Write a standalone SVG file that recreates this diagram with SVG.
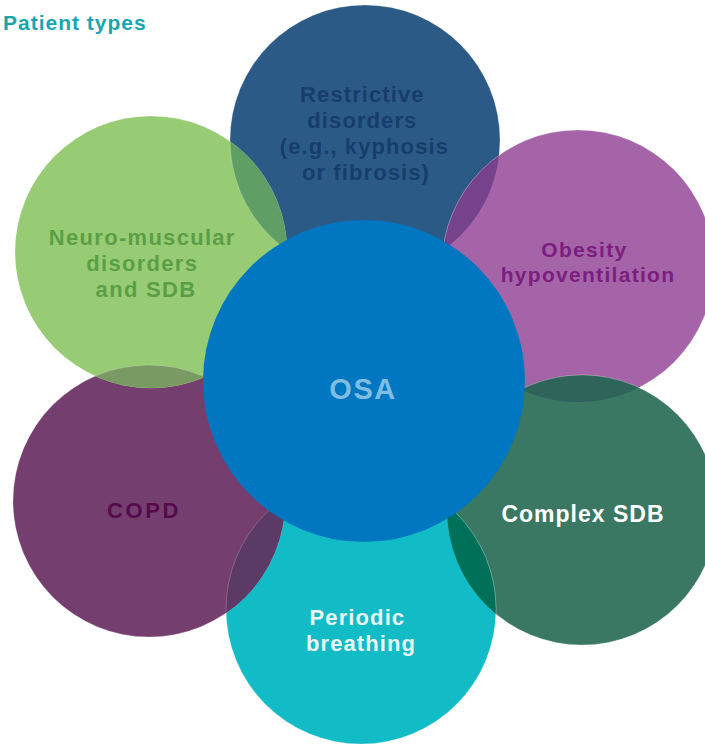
<svg xmlns="http://www.w3.org/2000/svg" width="705" height="744" viewBox="0 0 705 744">
  <style>
    .lbl { font-family: "Liberation Sans", Arial, sans-serif; font-weight: 700; text-anchor: middle; }
    .ring { stroke: #ffffff; stroke-opacity: 0.35; stroke-width: 0.6; }
  </style>
  <defs>
    <clipPath id="cRestr"><circle cx="365" cy="140" r="135"/></clipPath>
    <clipPath id="cObes"><circle cx="578" cy="266" r="136"/></clipPath>
    <clipPath id="cCompl"><circle cx="582" cy="510" r="135"/></clipPath>
    <clipPath id="cPer"><circle cx="361" cy="609" r="135"/></clipPath>
    <clipPath id="cCopd"><circle cx="149" cy="501" r="136"/></clipPath>
    <clipPath id="cNeuro"><circle cx="151" cy="252" r="136"/></clipPath>
  </defs>
  <rect width="705" height="744" fill="#ffffff"/>
  <text class="lbl" x="3" y="30" font-size="21" letter-spacing="1" fill="#17a6b1" style="text-anchor:start">Patient types</text>

  <g id="node-restrictive">
    <circle class="ring" cx="365" cy="140" r="135" fill="#2c5a86"/>
    <text class="lbl" font-size="22" letter-spacing="1.1" fill="#173d6c">
      <tspan x="366" y="102">Restrictive</tspan>
      <tspan x="366" y="128">disorders</tspan>
      <tspan x="368" y="154">(e.g., kyphosis</tspan>
      <tspan x="366" y="180">or fibrosis)</tspan>
    </text>
  </g>
  <g id="node-obesity">
    <circle class="ring" cx="578" cy="266" r="136" fill="#a564a8"/>
    <text class="lbl" font-size="21" letter-spacing="1.3" fill="#7b1e7f">
      <tspan x="588" y="257">Obesity</tspan>
      <tspan x="588" y="282">hypoventilation</tspan>
    </text>
  </g>
  <g id="node-complex">
    <circle class="ring" cx="582" cy="510" r="135" fill="#3a7863"/>
    <text class="lbl" x="583" y="522" font-size="23" letter-spacing="1" fill="#ffffff">Complex SDB</text>
  </g>
  <g id="node-periodic">
    <circle class="ring" cx="361" cy="609" r="135" fill="#12bcc6"/>
    <text class="lbl" font-size="22" letter-spacing="1.1" fill="#e9f5f4">
      <tspan x="361" y="625">Periodic</tspan>
      <tspan x="361" y="651">breathing</tspan>
    </text>
  </g>
  <g id="node-copd">
    <circle class="ring" cx="149" cy="501" r="136" fill="#743f6e"/>
    <text class="lbl" x="144" y="518" font-size="22" letter-spacing="2.6" fill="#560a4c">COPD</text>
  </g>
  <g id="node-neuro">
    <circle class="ring" cx="151" cy="252" r="136" fill="#98cc74"/>
    <text class="lbl" font-size="22" letter-spacing="1.3" fill="#5a9f46">
      <tspan x="146" y="245">Neuro-muscular</tspan>
      <tspan x="146" y="271">disorders</tspan>
      <tspan x="146" y="297">and SDB</tspan>
    </text>
  </g>

  <g id="overlaps">
    <g clip-path="url(#cNeuro)"><circle class="ring" cx="365" cy="140" r="135" fill="#5f9f66"/></g>
    <g clip-path="url(#cRestr)"><circle class="ring" cx="578" cy="266" r="136" fill="#75428b"/></g>
    <g clip-path="url(#cNeuro)"><circle class="ring" cx="149" cy="501" r="136" fill="#7a9a63"/></g>
    <g clip-path="url(#cObes)"><circle class="ring" cx="582" cy="510" r="135" fill="#2e6459"/></g>
    <g clip-path="url(#cCopd)"><circle class="ring" cx="361" cy="609" r="135" fill="#5c3a66"/></g>
    <g clip-path="url(#cCompl)"><circle class="ring" cx="361" cy="609" r="135" fill="#007058"/></g>
  </g>

  <g id="connectors"/>

  <g id="node-osa">
    <circle cx="364" cy="381" r="161" fill="#0077c0"/>
    <text class="lbl" x="363" y="399" font-size="29" letter-spacing="1.5" fill="#7fbde2">OSA</text>
  </g>
</svg>
